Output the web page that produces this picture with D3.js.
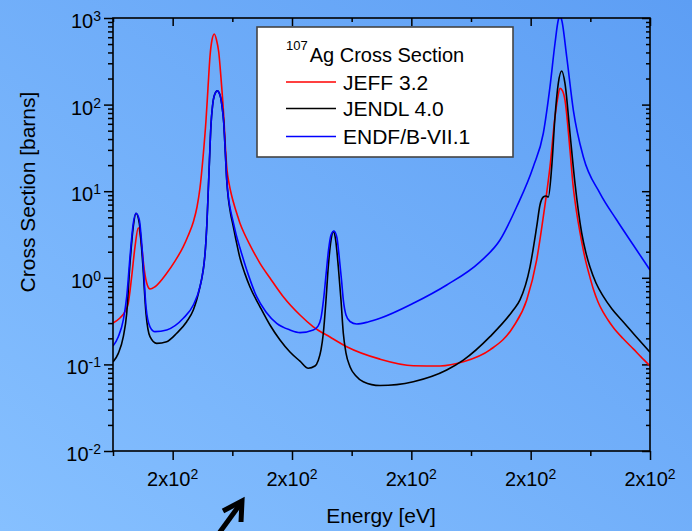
<!DOCTYPE html>
<html>
<head>
<meta charset="utf-8">
<script src="https://cdn.jsdelivr.net/npm/d3@7"></script>
<style>
  html, body { margin: 0; padding: 0; background: #74b0fb; }
  svg { display: block; }
  text { font-family: "Liberation Sans", Arial, sans-serif; fill: #000; }
</style>
</head>
<body>
<svg id="chart" width="692" height="531"></svg>
<script>
// ---------------- data ----------------
const jeffEnergy = [165.00,166.17,167.01,167.56,168.13,168.69,169.24,169.81,170.25,170.75,171.20,172.04,174.00,175.39,176.78,177.57,178.46,179.08,179.58,180.08,180.59,180.92,181.26,181.59,181.98,182.35,182.72,183.10,183.60,183.85,184.11,184.44,184.86,185.36,185.78,186.28,187.12,187.96,189.64,191.31,193.54,196.34,198.57,201.37,204.17,209.75,215.33,219.81,223.71,228.18,232.09,234.34,236.01,237.12,238.24,239.08,239.50,239.92,240.34,240.75,241.59,242.10,242.72,243.44,244.11,244.78,245.50,246.29,247.12,247.96,248.85,250.48,252.20,253.49,255.00];
const jeff32 = [0.301,0.344,0.406,0.508,1.03,2.29,3.79,2.29,1.23,0.826,0.743,0.789,1.13,1.56,2.29,3.04,4.41,6.57,10.9,24.2,66.4,155,364,557,653,557,405,203,66.4,31.6,17.6,12.4,9.04,6.75,5.46,4.26,3.12,2.39,1.47,0.995,0.605,0.372,0.272,0.207,0.160,0.115,0.0966,0.0959,0.107,0.147,0.272,0.555,1.61,5.08,19.2,72.5,116,154,144,113,29.9,11.8,5.60,2.88,1.69,1.11,0.743,0.526,0.403,0.326,0.267,0.199,0.151,0.122,0.0959];

const jendlEnergy = [165.00,165.89,166.73,167.30,167.85,168.40,168.85,169.41,169.98,170.53,171.20,172.32,174.00,175.68,177.35,178.46,179.58,179.92,180.25,180.50,180.75,180.97,181.17,181.42,181.68,182.01,182.48,182.93,183.27,183.55,183.82,184.06,184.36,184.69,185.11,185.61,186.28,187.12,187.96,189.64,191.31,192.99,194.66,196.34,197.73,198.85,199.41,199.86,200.25,200.70,201.08,201.54,201.92,202.32,202.76,203.21,203.60,204.05,204.72,205.73,206.95,209.75,215.33,220.93,223.71,228.18,232.09,233.21,234.89,236.01,236.56,237.12,237.57,237.96,238.53,239.08,239.63,240.20,240.75,241.59,242.43,243.55,244.27,244.94,245.95,247.12,248.63,250.53,252.65,255.00];
const jendl40 = [0.107,0.134,0.209,0.389,1.47,3.89,5.56,4.26,1.47,0.389,0.209,0.175,0.183,0.229,0.311,0.425,0.789,1.02,1.44,2.21,4.41,10.3,22.9,58.1,96.3,129,144,129,96.3,63.0,28.4,13.5,7.91,5.60,4.07,2.73,1.69,1.11,0.783,0.463,0.285,0.191,0.139,0.109,0.0902,0.0959,0.112,0.147,0.229,0.555,1.34,2.73,3.41,2.73,1.34,0.555,0.229,0.135,0.0941,0.0735,0.0631,0.0570,0.0631,0.0861,0.112,0.209,0.425,0.555,1.34,3.89,6.93,8.57,8.81,8.57,19.2,72.5,176,244,176,46.7,12.3,3.29,1.93,1.33,0.871,0.617,0.436,0.309,0.210,0.138];

const endfEnergy = [165.00,165.89,166.73,167.30,167.85,168.40,168.85,169.41,169.98,170.53,171.20,172.04,174.00,176.78,178.46,179.58,179.92,180.25,180.50,180.75,180.97,181.17,181.42,181.68,182.01,182.48,182.93,183.27,183.55,183.82,184.06,184.36,184.69,185.11,185.61,186.28,187.63,189.08,190.64,192.44,194.66,196.34,198.57,199.36,199.86,200.28,200.70,201.12,201.54,202.04,202.54,202.88,203.30,203.60,204.05,204.72,205.84,207.74,209.75,215.33,220.93,226.51,229.86,232.66,235.44,237.12,238.24,239.08,239.63,239.92,240.20,241.04,242.15,243.82,246.62,249.42,252.20,255.00];
const endfb71 = [0.163,0.209,0.326,0.605,1.75,4.26,5.56,4.65,1.75,0.463,0.272,0.239,0.250,0.341,0.485,0.789,1.02,1.44,2.21,4.41,10.3,22.9,58.1,96.3,129,144,129,96.3,63.0,28.4,13.5,8.34,6.07,4.53,3.21,2.21,1.11,0.605,0.403,0.298,0.250,0.233,0.250,0.277,0.344,0.555,1.08,2.09,3.12,3.47,2.88,1.83,0.944,0.555,0.372,0.313,0.293,0.309,0.341,0.508,0.826,1.53,2.73,6.62,19.2,46.7,161,511,948,1050,948,357,86.6,25.0,9.46,4.65,2.39,1.23];

const seriesNames = ["JEFF 3.2", "JENDL 4.0", "ENDF/B-VII.1"];
const seriesColors = ["#ff0000", "#000000", "#0000ff"];

const xDomain = [165, 255];
const xMajorTicks = [175, 195, 215, 235, 255];
const xMinorTicks = [165, 185, 205, 225, 245];
const xTickBase = ["2x10", "2x10", "2x10", "2x10", "2x10"];
const xTickExp = ["2", "2", "2", "2", "2"];

const yDomain = [1e-2, 1e3];
const yMajorTicks = [1e-2, 1e-1, 1e0, 1e1, 1e2, 1e3];
const yTickExp = ["-2", "-1", "0", "1", "2", "3"];
const yMinorMult = [2, 3, 4, 5, 6, 7, 8, 9];

const legendTitleSup = "107";
const legendTitle = "Ag Cross Section";
const xTitle = "Energy [eV]";
const yTitle = "Cross Section [barns]";

// ---------------- layout ----------------
const W = 692, H = 531;
const plot = { left: 113, right: 650, top: 18, bottom: 451 };

const svg = d3.select("#chart");
const defs = svg.append("defs");
const grad = defs.append("linearGradient").attr("id", "bg")
  .attr("x1", "0").attr("y1", "1").attr("x2", "1").attr("y2", "0");
grad.append("stop").attr("offset", "0").attr("stop-color", "#86c0ff");
grad.append("stop").attr("offset", "1").attr("stop-color", "#5d9ef4");
svg.append("rect").attr("width", W).attr("height", H).attr("fill", "url(#bg)");

defs.append("clipPath").attr("id", "plotclip").append("rect")
  .attr("x", plot.left).attr("y", plot.top)
  .attr("width", plot.right - plot.left).attr("height", plot.bottom - plot.top);

const x = d3.scaleLinear().domain(xDomain).range([plot.left, plot.right]);
const y = d3.scaleLog().domain(yDomain).range([plot.bottom, plot.top]);

const yMinorTicks = [];
for (let e = -2; e < 3; e++) yMinorMult.forEach(m => yMinorTicks.push(m * Math.pow(10, e)));

function styleAxis(g) {
  g.select(".domain").remove();
  g.selectAll(".tick line").attr("stroke", "#000").attr("stroke-width", 1.5);
  g.selectAll(".tick text").remove();
}

// bottom (outward)
svg.append("g").attr("transform", `translate(0,${plot.bottom})`)
  .call(d3.axisBottom(x).tickValues(xMajorTicks).tickSize(9).tickFormat(() => "")).call(styleAxis);
svg.append("g").attr("transform", `translate(0,${plot.bottom})`)
  .call(d3.axisBottom(x).tickValues(xMinorTicks).tickSize(5).tickFormat(() => "")).call(styleAxis);
// top (inward)
svg.append("g").attr("transform", `translate(0,${plot.top})`)
  .call(d3.axisTop(x).tickValues(xMajorTicks).tickSize(-8).tickFormat(() => "")).call(styleAxis);
svg.append("g").attr("transform", `translate(0,${plot.top})`)
  .call(d3.axisTop(x).tickValues(xMinorTicks).tickSize(-4).tickFormat(() => "")).call(styleAxis);
// left (outward)
svg.append("g").attr("transform", `translate(${plot.left},0)`)
  .call(d3.axisLeft(y).tickValues(yMajorTicks).tickSize(9).tickFormat(() => "")).call(styleAxis);
svg.append("g").attr("transform", `translate(${plot.left},0)`)
  .call(d3.axisLeft(y).tickValues(yMinorTicks).tickSize(5).tickFormat(() => "")).call(styleAxis);
// right (inward)
svg.append("g").attr("transform", `translate(${plot.right},0)`)
  .call(d3.axisRight(y).tickValues(yMajorTicks).tickSize(-8).tickFormat(() => "")).call(styleAxis);
svg.append("g").attr("transform", `translate(${plot.right},0)`)
  .call(d3.axisRight(y).tickValues(yMinorTicks).tickSize(-4).tickFormat(() => "")).call(styleAxis);

// curves
const line = d3.line().curve(d3.curveMonotoneX).x(d => x(d[0])).y(d => y(d[1]));
const curves = [
  d3.zip(jeffEnergy, jeff32),
  d3.zip(jendlEnergy, jendl40),
  d3.zip(endfEnergy, endfb71)
];
const cg = svg.append("g").attr("clip-path", "url(#plotclip)");
curves.forEach((c, i) => {
  cg.append("path").datum(c).attr("d", line)
    .attr("fill", "none").attr("stroke", seriesColors[i]).attr("stroke-width", 1.6)
    .attr("stroke-linejoin", "round");
});

// frame
svg.append("rect").attr("x", plot.left).attr("y", plot.top)
  .attr("width", plot.right - plot.left).attr("height", plot.bottom - plot.top)
  .attr("fill", "none").attr("stroke", "#000").attr("stroke-width", 1.6);

// x tick labels
xMajorTicks.forEach((t, i) => {
  const tx = svg.append("text").attr("x", x(t)).attr("y", 486)
    .attr("text-anchor", "middle").attr("font-size", 20);
  tx.append("tspan").text(xTickBase[i]);
  tx.append("tspan").attr("dy", -7).attr("font-size", 14).text(xTickExp[i]);
});
// y tick labels
yMajorTicks.forEach((t, i) => {
  const tx = svg.append("text").attr("x", 101).attr("y", y(t) + 10)
    .attr("text-anchor", "end").attr("font-size", 20);
  tx.append("tspan").text("10");
  tx.append("tspan").attr("dy", -7).attr("font-size", 14).text(yTickExp[i]);
});

// axis titles
svg.append("text").attr("x", 381).attr("y", 523).attr("text-anchor", "middle")
  .attr("font-size", 21).text(xTitle);
svg.append("text").attr("transform", "translate(35,192) rotate(-90)")
  .attr("text-anchor", "middle").attr("font-size", 21).text(yTitle);

// legend
const lg = svg.append("g");
lg.append("rect").attr("x", 257).attr("y", 27).attr("width", 256).attr("height", 130)
  .attr("fill", "#fff").attr("stroke", "#444").attr("stroke-width", 1.6);
const lt = lg.append("text").attr("x", 286).attr("y", 62).attr("font-size", 20);
lt.append("tspan").attr("font-size", 13).attr("dy", -12).text(legendTitleSup);
lt.append("tspan").attr("dy", 12).attr("dx", 2).text(legendTitle);
const legY = [82, 108.5, 136.5];
seriesNames.forEach((n, i) => {
  lg.append("line").attr("x1", 286).attr("x2", 336).attr("y1", legY[i]).attr("y2", legY[i])
    .attr("stroke", seriesColors[i]).attr("stroke-width", 1.6);
  lg.append("text").attr("x", 343).attr("y", legY[i] + 7.5).attr("font-size", 21).text(n);
});

// arrow annotation
const ag = svg.append("g").attr("stroke", "#000").attr("stroke-width", 5)
  .attr("fill", "none").attr("stroke-linecap", "butt").attr("stroke-linejoin", "miter");
ag.append("line").attr("x1", 217).attr("y1", 536).attr("x2", 241).attr("y2", 503);
ag.append("polyline").attr("points", "223,511 242,501 241,522");
</script>
</body>
</html>
